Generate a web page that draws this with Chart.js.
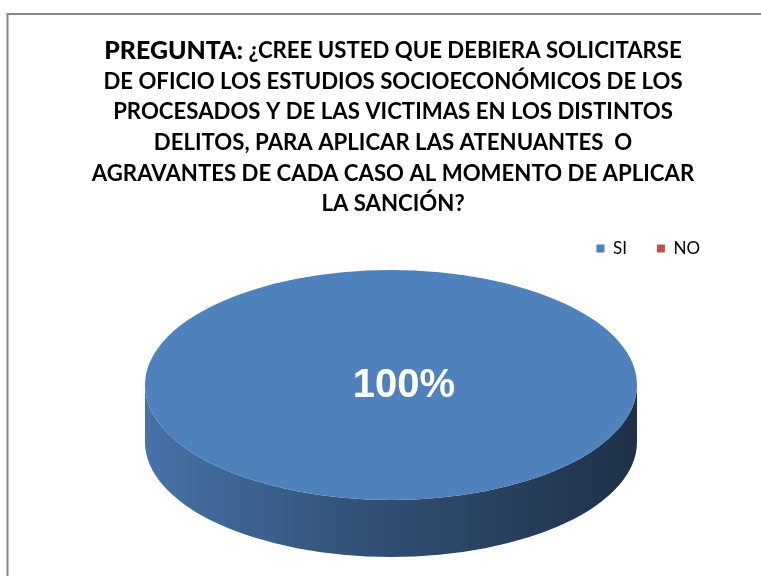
<!DOCTYPE html>
<html>
<head>
<meta charset="utf-8">
<script src="https://cdn.jsdelivr.net/npm/chart.js@4.4.1/dist/chart.umd.min.js"></script>
<style>
  body { margin: 0; background: #fff; }
  #wrap { width: 761px; height: 576px; }
</style>
</head>
<body>
<div id="wrap"><canvas id="pieChart"></canvas></div>
<script>
// data
var labels = ['SI', 'NO'];
var values = [100, 0];
var colors = ['#4F81BD', '#C0504D'];
var titleHead = 'PREGUNTA:';
var titleLines = [
  ' ¿CREE USTED QUE DEBIERA SOLICITARSE',
  'DE OFICIO LOS ESTUDIOS SOCIOECONÓMICOS DE LOS',
  'PROCESADOS Y DE LAS VICTIMAS EN LOS DISTINTOS',
  'DELITOS, PARA APLICAR LAS ATENUANTES  O',
  'AGRAVANTES DE CADA CASO AL MOMENTO DE APLICAR',
  'LA SANCIÓN?'
];

var titleFont = 'Lato, "Open Sans", sans-serif';

function shade(hex, f){
  var n = parseInt(hex.slice(1), 16);
  var r = Math.round(((n >> 16) & 255) * f);
  var g = Math.round(((n >> 8) & 255) * f);
  var b = Math.round((n & 255) * f);
  return 'rgb(' + r + ',' + g + ',' + b + ')';
}

// frame + title drawn as text
var framePlugin = {
  id: 'frame',
  beforeDraw: function(chart){
    var c = chart.ctx;
    c.save();
    c.fillStyle = '#fff';
    c.fillRect(0, 0, chart.width, chart.height);
    c.strokeStyle = '#878787';
    c.lineWidth = 2;
    c.beginPath();
    c.moveTo(7.5, chart.height);
    c.lineTo(7.5, 14);
    c.lineTo(chart.width, 14);
    c.stroke();

    // fit font size so the widest line is ~580px
    c.font = 'bold 20px ' + titleFont;
    var w = c.measureText(titleLines[1]).width;
    var size = 20 * 580 / w;
    var cxT = 393;
    var y0 = 51, step = 30.6;
    c.fillStyle = '#000';
    c.textBaseline = 'middle';
    // first line: head bigger
    var headFont = '900 ' + (size * 1.12).toFixed(1) + 'px ' + titleFont;
    var bodyFont = 'bold ' + size.toFixed(1) + 'px ' + titleFont;
    c.font = headFont;
    var hw = c.measureText(titleHead).width;
    c.font = bodyFont;
    var bw = c.measureText(titleLines[0]).width;
    var x = cxT - (hw + bw) / 2;
    c.textAlign = 'left';
    c.font = headFont;
    c.fillText(titleHead, x, y0);
    c.font = bodyFont;
    c.fillText(titleLines[0], x + hw, y0);
    c.textAlign = 'center';
    for (var i = 1; i < titleLines.length; i++){
      c.fillText(titleLines[i], cxT, y0 + i * step);
    }
    c.restore();
  }
};

// squash the pie into an ellipse and add the 3d side
function frontParts(a0, a1){
  var out = [];
  for (var k = -1; k <= 1; k++){
    var s = Math.max(a0, k * 2 * Math.PI), e = Math.min(a1, k * 2 * Math.PI + Math.PI);
    if (e > s) out.push([s, e]);
  }
  return out;
}

var pie3dPlugin = {
  id: 'pie3d',
  beforeDatasetsDraw: function(chart, args, opts){
    var c = chart.ctx;
    var area = chart.chartArea;
    var arcs = chart.getDatasetMeta(0).data;
    var rx = opts.rx, ry = opts.ry, depth = opts.depth;
    var cx = area.left + rx;
    var cy = area.bottom - depth - ry;
    chart.$pie = {cx: cx, cy: cy, rx: rx, ry: ry};

    arcs.forEach(function(arc, i){
      var p = arc.getProps(['startAngle', 'endAngle']);
      if (p.endAngle - p.startAngle <= 0) return;
      var grad = c.createLinearGradient(cx - rx, 0, cx + rx, 0);
      grad.addColorStop(0, shade(colors[i], 0.89));
      grad.addColorStop(0.45, shade(colors[i], 0.62));
      grad.addColorStop(1, shade(colors[i], 0.38));
      frontParts(p.startAngle, p.endAngle).forEach(function(seg){
        c.beginPath();
        c.ellipse(cx, cy, rx, ry, 0, seg[0], seg[1]);
        c.ellipse(cx, cy + depth, rx, ry, 0, seg[1], seg[0], true);
        c.closePath();
        c.fillStyle = grad;
        c.fill();
      });
    });

    var R = arcs[0].outerRadius;
    c.save();
    c.translate(cx, cy);
    c.scale(rx / R, ry / R);
    c.translate(-arcs[0].x, -arcs[0].y);
  },
  afterDatasetsDraw: function(chart){
    var c = chart.ctx;
    c.restore();
    var p = chart.$pie;
    var total = values.reduce(function(a, b){ return a + b; }, 0);
    c.save();
    c.fillStyle = '#fff';
    c.font = 'bold 40px "Liberation Sans", Arial, sans-serif';
    c.textAlign = 'center';
    c.textBaseline = 'middle';
    values.forEach(function(v){
      if (v / total > 0.99) c.fillText(Math.round(v / total * 100) + '%', p.cx + 13, p.cy + 1);
    });
    c.restore();
  }
};

var chart = new Chart(document.getElementById('pieChart'), {
  type: 'pie',
  data: {
    labels: labels,
    datasets: [{
      data: values,
      backgroundColor: colors,
      borderWidth: 0
    }]
  },
  options: {
    responsive: true,
    maintainAspectRatio: false,
    animation: false,
    events: [],
    layout: { padding: { top: 210, left: 145, right: 31, bottom: 19 } },
    plugins: {
      pie3d: { rx: 246, ry: 115, depth: 57 },
      tooltip: { enabled: false },
      legend: {
        position: 'top',
        align: 'end',
        labels: {
          boxWidth: 8,
          boxHeight: 8,
          padding: 30,
          color: '#000',
          font: { family: titleFont, size: 17 }
        }
      }
    }
  },
  plugins: [framePlugin, pie3dPlugin]
});
</script>
</body>
</html>
